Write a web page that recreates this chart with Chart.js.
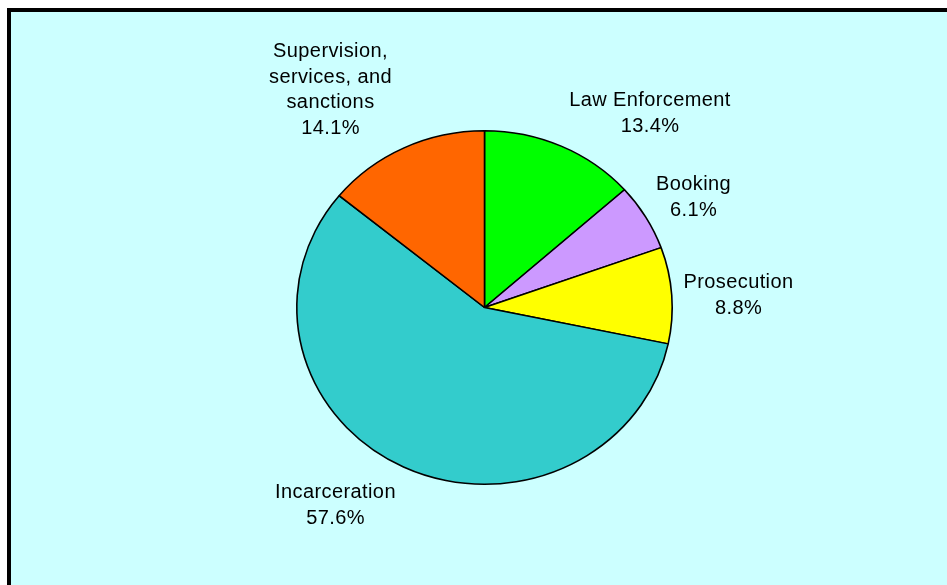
<!DOCTYPE html>
<html>
<head>
<meta charset="utf-8">
<script src="https://cdn.jsdelivr.net/npm/chart.js@4.4.1/dist/chart.umd.min.js"></script>
<style>
  html, body { margin: 0; padding: 0; background: #ffffff; width: 947px; height: 585px; overflow: hidden; }
  #frame { position: absolute; left: 7px; top: 8px; width: 960px; height: 600px;
           border-left: 4px solid #000; border-top: 4px solid #000; background: #CCFFFF; }
  #wrap { position: absolute; left: 0; top: 0; width: 947px; height: 585px; }
</style>
</head>
<body>
<div id="frame"></div>
<div id="wrap"><canvas id="c" width="947" height="585"></canvas></div>
<script>
// ---- data ----
const categories = ["Law Enforcement", "Booking", "Prosecution", "Incarceration", "Supervision, services, and sanctions"];
const values = [13.4, 6.1, 8.8, 57.6, 14.1];
// label text lines (category name wrapped as in the original)
const labelLines = [
  ["Law Enforcement"],
  ["Booking"],
  ["Prosecution"],
  ["Incarceration"],
  ["Supervision,", "services, and", "sanctions"]
];
// ---- style / layout (not data) ----
const colors = ["#00FF00", "#CC99FF", "#FFFF00", "#33CCCC", "#FF6600"];
const yScale = 177.5 / 188.5; // pie is drawn slightly elliptical
// label anchor offsets from pie centre (px): centre-x, first baseline
const labelOffsets = [[165.5, -201.5], [209, -117.5], [254, -19.5], [-149, 190.5], [-154, -250.5]];
const lineHeight = 25.5;

const ellipsePlugin = {
  id: 'ellipse',
  beforeDatasetsDraw(chart) {
    const a = chart.getDatasetMeta(0).data[0];
    const ctx = chart.ctx;
    ctx.save();
    ctx.translate(a.x, a.y);
    ctx.scale(1, yScale);
    ctx.translate(-a.x, -a.y);
  },
  afterDatasetsDraw(chart) {
    chart.ctx.restore();
  }
};

const labelPlugin = {
  id: 'pieLabels',
  afterDraw(chart) {
    const meta = chart.getDatasetMeta(0);
    const ctx = chart.ctx;
    ctx.save();
    ctx.fillStyle = '#000';
    ctx.font = '20px "Liberation Sans", Arial, sans-serif';
    ctx.letterSpacing = '0.4px';
    ctx.textAlign = 'center';
    ctx.textBaseline = 'alphabetic';
    meta.data.forEach((arc, i) => {
      const cx = arc.x + labelOffsets[i][0];
      let y = arc.y + labelOffsets[i][1];
      const lines = labelLines[i].concat([values[i].toFixed(1) + '%']);
      lines.forEach(t => { ctx.fillText(t, cx, y); y += lineHeight; });
    });
    ctx.restore();
  }
};

new Chart(document.getElementById('c'), {
  type: 'pie',
  data: {
    labels: categories,
    datasets: [{
      data: values,
      backgroundColor: colors,
      borderColor: '#000000',
      borderWidth: 1.6,
      hoverOffset: 0
    }]
  },
  options: {
    responsive: false,
    animation: false,
    events: [],
    layout: { padding: { left: 296, right: 274, top: 119, bottom: 89 } },
    plugins: { legend: { display: false }, tooltip: { enabled: false } }
  },
  plugins: [ellipsePlugin, labelPlugin]
});
</script>
</body>
</html>
